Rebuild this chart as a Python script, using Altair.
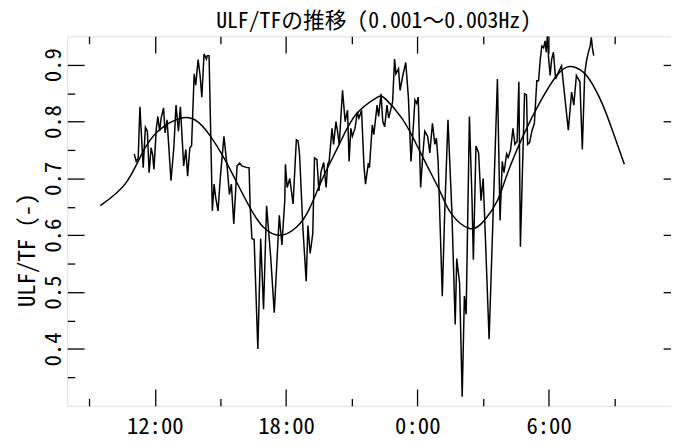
import altair as alt
import pandas as pd

# hours elapsed since 08:00 of the first day
obs_hours = [3.06, 3.15, 3.24, 3.32, 3.47, 3.57, 3.66, 3.74, 3.83, 3.90, 3.96, 4.07, 4.14, 4.22, 4.29,
             4.40, 4.47, 4.56, 4.74, 4.87, 4.97, 5.08, 5.17, 5.32, 5.42, 5.50, 5.60, 5.68, 5.80, 5.87,
             5.98, 6.07, 6.15, 6.25, 6.36, 6.40, 6.48, 6.63, 6.71, 6.78, 6.89, 7.00, 7.16, 7.31, 7.41,
             7.50, 7.61, 7.76, 7.88, 7.98, 8.21, 8.31, 8.36, 8.44, 8.54, 8.71, 8.84, 8.97, 9.11, 9.30,
             9.46, 9.69, 9.81, 9.94, 9.97, 10.05, 10.17, 10.32, 10.47, 10.55, 10.62, 10.77, 10.92, 11.00,
             11.10, 11.22, 11.30, 11.41, 11.50, 11.60, 11.72, 11.83, 11.90, 11.97, 12.10, 12.17, 12.28,
             12.35, 12.43, 12.58, 12.70, 12.81, 12.88, 12.96, 13.03, 13.15, 13.26, 13.33, 13.45, 13.56,
             13.63, 13.76, 13.81, 13.94, 14.01, 14.16, 14.23, 14.34, 14.42, 14.51, 14.61, 14.69, 14.76,
             14.87, 14.96, 15.02, 15.14, 15.21, 15.32, 15.47, 15.59, 15.71, 15.82, 15.89, 15.97, 16.04,
             16.15, 16.25, 16.34, 16.47, 16.57, 16.69, 16.80, 16.87, 16.95, 17.14, 17.25, 17.40, 17.58,
             17.73, 17.80, 17.93, 18.05, 18.15, 18.23, 18.38, 18.50, 18.56, 18.68, 18.80, 18.91, 19.01,
             19.28, 19.66, 19.78, 19.88, 19.96, 20.08, 20.15, 20.26, 20.37, 20.46, 20.56, 20.64, 20.71,
             20.90, 20.99, 21.04, 21.13, 21.24, 21.35, 21.46, 21.54, 21.62, 21.69, 21.77, 21.84, 21.89,
             21.95, 21.99, 22.07, 22.14, 22.22, 22.32, 22.45, 22.59, 22.70, 22.90, 23.05, 23.15, 23.27,
             23.43, 23.54, 23.65, 23.72, 23.80, 23.90, 23.95, 24.00, 24.06]
obs_values = [0.743, 0.730, 0.735, 0.826, 0.719, 0.790, 0.783, 0.710, 0.754, 0.742, 0.716, 0.788, 0.809, 0.783, 0.806,
              0.824, 0.780, 0.803, 0.696, 0.754, 0.829, 0.783, 0.826, 0.722, 0.751, 0.704, 0.754, 0.757, 0.884, 0.864,
              0.909, 0.881, 0.843, 0.919, 0.910, 0.916, 0.916, 0.643, 0.690, 0.667, 0.643, 0.704, 0.774, 0.719, 0.672,
              0.690, 0.620, 0.722, 0.727, 0.722, 0.719, 0.719, 0.649, 0.594, 0.593, 0.400, 0.594, 0.470, 0.652, 0.560,
              0.464, 0.635, 0.583, 0.661, 0.725, 0.684, 0.700, 0.655, 0.768, 0.766, 0.740, 0.612, 0.519, 0.617,
              0.568, 0.603, 0.736, 0.733, 0.678, 0.712, 0.728, 0.684, 0.724, 0.730, 0.788, 0.760, 0.800,
              0.783, 0.760, 0.855, 0.800, 0.820, 0.730, 0.788, 0.774, 0.788, 0.817, 0.806, 0.820, 0.722,
              0.690, 0.727, 0.719, 0.794, 0.777, 0.829, 0.809, 0.849, 0.800, 0.791, 0.829, 0.806, 0.817,
              0.835, 0.910, 0.884, 0.893, 0.855, 0.878, 0.904, 0.843, 0.730, 0.794, 0.838, 0.832, 0.843,
              0.684, 0.742, 0.783, 0.774, 0.745, 0.797, 0.760, 0.771, 0.730, 0.493, 0.640, 0.803, 0.640,
              0.443, 0.559, 0.516, 0.316, 0.493, 0.461, 0.809, 0.661, 0.557, 0.757, 0.745, 0.661, 0.700,
              0.417, 0.875, 0.626, 0.730, 0.710, 0.743, 0.737, 0.750, 0.788, 0.760, 0.765, 0.870, 0.580,
              0.849, 0.847, 0.760, 0.763, 0.784, 0.797, 0.872, 0.872, 0.910, 0.933, 0.930, 0.942, 0.922,
              0.955, 0.916, 0.881, 0.910, 0.922, 0.875, 0.887, 0.898, 0.858, 0.785, 0.852, 0.829, 0.881,
              0.870, 0.751, 0.884, 0.904, 0.919, 0.933, 0.948, 0.930, 0.916]

fit_hours = [1.51, 2.64, 3.39, 4.14, 5.20, 5.95, 6.55, 7.16, 7.76, 8.36, 8.97, 9.72, 10.47, 11.07, 11.68,
             12.43, 13.18, 14.09, 14.54, 15.29, 15.89, 16.49, 17.10, 17.55, 18.38, 19.06, 19.66, 20.11,
             20.86, 21.62, 22.37, 22.97, 23.58, 24.03, 24.48, 24.93, 25.46]
fit_values = [0.652, 0.690, 0.742, 0.783, 0.806, 0.800, 0.774, 0.736, 0.692, 0.648, 0.614, 0.600, 0.614, 0.647, 0.701,
              0.760, 0.812, 0.841, 0.840, 0.806, 0.765, 0.719, 0.672, 0.638, 0.612, 0.626, 0.661, 0.708,
              0.777, 0.835, 0.881, 0.897, 0.887, 0.864, 0.829, 0.783, 0.725]

x_major = [4, 10, 16, 22]          # 12:00, 18:00, 0:00, 6:00
x_minor = [1, 7, 13, 19, 25]       # 9:00, 15:00, 21:00, 3:00, 9:00
y_major = [0.4, 0.5, 0.6, 0.7, 0.8, 0.9]
y_minor = [0.35, 0.45, 0.55, 0.65, 0.75, 0.85]

TITLE = "ULF/TFの推移 (0.001～0.003Hz)"
Y_TITLE = "ULF/TF (-)"
FONT = "Noto Sans Mono CJK JP, DejaVu Sans Mono, Noto Sans CJK JP, monospace"

obs = pd.DataFrame({"t": obs_hours, "v": obs_values})
fit = pd.DataFrame({"t": fit_hours, "v": fit_values})

xs = alt.Scale(domain=[0, 28], range=[0, 620], nice=False, zero=False)
ys = alt.Scale(domain=[0.30, 0.95], nice=False, zero=False)

MAJ, MIN = 17, 7.5
TW = 1.3

def xaxis(orient, values, size, offset, labels=False):
    kw = dict(orient=orient, values=values, tickSize=size, offset=offset, domain=False, grid=False,
              title=None, tickColor="black", tickWidth=TW, labels=labels)
    if labels:
        kw.update(labelExpr="((datum.value + 8) % 24) + ':00'", labelFont=FONT, labelFontSize=23,
                  labelColor="black", labelPadding=10, labelBaseline="top", labelAlign="center")
    return alt.Axis(**kw)

def yaxis(orient, values, size, offset, labels=False, title=None):
    kw = dict(orient=orient, values=values, tickSize=size, offset=offset, domain=False, grid=False,
              tickColor="black", tickWidth=TW, labels=labels)
    if labels:
        kw.update(format=".1f", labelFont=FONT, labelFontSize=23, labelColor="black", labelAngle=-90,
                  labelAlign="center", labelBaseline="alphabetic", labelPadding=7)
    if title:
        kw.update(title=title, titleFont=FONT, titleFontSize=23, titleFontWeight="normal",
                  titleColor="black", titleAngle=-90, titleAlign="center", titleBaseline="alphabetic",
                  titleX=-50, titleY=216)
    else:
        kw.update(title=None)
    return alt.Axis(**kw)

noise = alt.Chart(obs).mark_line(color="black", strokeWidth=1.5, clip=True).encode(
    x=alt.X("t:Q", scale=xs, axis=xaxis("bottom", x_major, MAJ, -MAJ, labels=True)),
    y=alt.Y("v:Q", scale=ys, axis=yaxis("left", y_major, MAJ, -MAJ, labels=True, title=Y_TITLE)),
)

trend = alt.Chart(fit).mark_line(color="black", strokeWidth=1.5, clip=True, interpolate="natural").encode(
    x=alt.X("t:Q", scale=xs, axis=xaxis("top", x_major, MAJ, -MAJ)),
    y=alt.Y("v:Q", scale=ys, axis=yaxis("right", y_major, MAJ, -8)),
)

minor1 = alt.Chart(fit).mark_line(strokeOpacity=0, clip=True).encode(
    x=alt.X("t:Q", scale=xs, axis=xaxis("bottom", x_minor, MIN, -MIN)),
    y=alt.Y("v:Q", scale=ys, axis=yaxis("left", y_minor, MIN, -MIN)),
)

minor2 = alt.Chart(fit).mark_line(strokeOpacity=0, clip=True).encode(
    x=alt.X("t:Q", scale=xs, axis=xaxis("top", x_minor, MIN, -MIN)),
    y=alt.Y("v:Q", scale=ys, axis=None),
)

chart = alt.layer(noise, trend, minor1, minor2).resolve_axis(
    x="independent", y="independent"
).properties(
    width=611,
    height=374,
    autosize=alt.AutoSizeParams(type="none"),
    padding={"left": 60, "top": 26, "right": 0, "bottom": 38},
    title=alt.TitleParams(TITLE, font=FONT, fontSize=22, fontWeight="normal", color="black",
                          anchor="middle", dx=4.5, offset=-14.5, baseline="alphabetic"),
).configure_view(
    stroke="black", strokeWidth=1.2
).configure(background="white")

chart.save("out.html", embed_options={"renderer": "svg", "actions": False})
